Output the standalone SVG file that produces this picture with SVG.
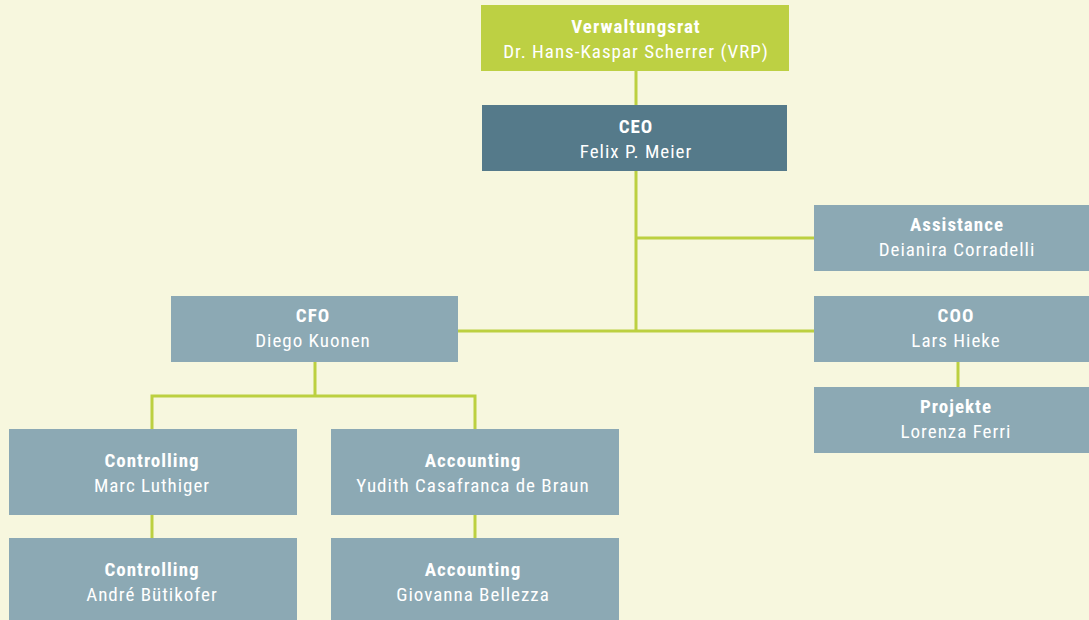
<svg xmlns="http://www.w3.org/2000/svg" width="1089" height="620" viewBox="0 0 1089 620">
<style>
.bg{fill:#f7f7de}
.box{fill:#8ca9b4}
.t{font-family:"Liberation Sans Narrow","Roboto Condensed","Liberation Sans",sans-serif;fill:#ffffff;text-anchor:middle;letter-spacing:1px}
.h{font-weight:bold;font-size:19px}
.n{font-size:19px}
.c{stroke:#bcd040;stroke-width:3;fill:none}
</style>
<rect class="bg" x="0" y="0" width="1089" height="620"/>
<g id="connectors">
<path class="c" d="M636 71V331"/>
<path class="c" d="M636 238H814"/>
<path class="c" d="M458 331H814"/>
<path class="c" d="M958 362V387"/>
<path class="c" d="M315 362V396M152 429V396H475V429"/>
<path class="c" d="M152 515V538"/>
<path class="c" d="M475 515V538"/>
</g>
<g id="vr">
<rect x="481" y="5" width="308" height="66" fill="#bdd043"/>
<text class="t h" x="636" y="33">Verwaltungsrat</text>
<text class="t n" x="636" y="58">Dr. Hans-Kaspar Scherrer (VRP)</text>
</g>
<g id="ceo">
<rect x="482" y="105" width="305" height="66" fill="#557a8a"/>
<text class="t h" x="636" y="133">CEO</text>
<text class="t n" x="636" y="158">Felix P. Meier</text>
</g>
<g id="assistance">
<rect class="box" x="814" y="205" width="290" height="66"/>
<text class="t h" x="957" y="231">Assistance</text>
<text class="t n" x="957" y="256">Deianira Corradelli</text>
</g>
<g id="cfo">
<rect class="box" x="171" y="296" width="287" height="66"/>
<text class="t h" x="313" y="322">CFO</text>
<text class="t n" x="313" y="347">Diego Kuonen</text>
</g>
<g id="coo">
<rect class="box" x="814" y="296" width="290" height="66"/>
<text class="t h" x="956" y="322">COO</text>
<text class="t n" x="956" y="347">Lars Hieke</text>
</g>
<g id="projekte">
<rect class="box" x="814" y="387" width="290" height="66"/>
<text class="t h" x="956" y="413">Projekte</text>
<text class="t n" x="956" y="438">Lorenza Ferri</text>
</g>
<g id="controlling1">
<rect class="box" x="9" y="429" width="288" height="86"/>
<text class="t h" x="152" y="467">Controlling</text>
<text class="t n" x="152" y="492">Marc Luthiger</text>
</g>
<g id="accounting1">
<rect class="box" x="331" y="429" width="288" height="86"/>
<text class="t h" x="473" y="467">Accounting</text>
<text class="t n" x="473" y="492">Yudith Casafranca de Braun</text>
</g>
<g id="controlling2">
<rect class="box" x="9" y="538" width="288" height="90"/>
<text class="t h" x="152" y="576">Controlling</text>
<text class="t n" x="152" y="601">André Bütikofer</text>
</g>
<g id="accounting2">
<rect class="box" x="331" y="538" width="288" height="90"/>
<text class="t h" x="473" y="576">Accounting</text>
<text class="t n" x="473" y="601">Giovanna Bellezza</text>
</g>
</svg>
